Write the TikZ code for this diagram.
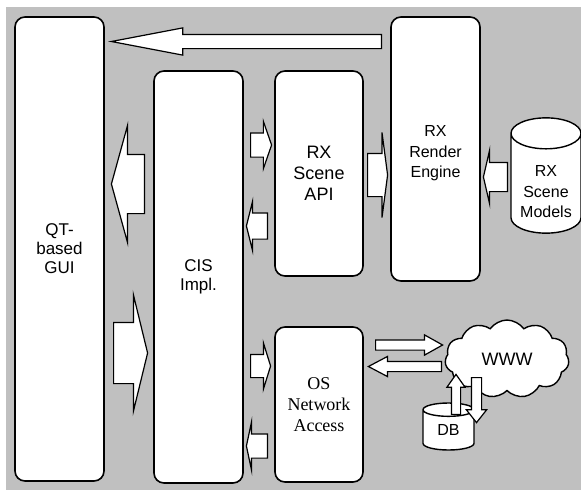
\documentclass[tikz,border=0pt]{standalone}
\usepackage{fontspec}
\setmainfont{Liberation Sans}
\newfontfamily\seriffont{Liberation Serif}
\usetikzlibrary{shapes.arrows,shapes.geometric,shapes.symbols,positioning}
\definecolor{panelgray}{HTML}{C0C0C0}
\tikzset{
    module/.style={
        rectangle,
        draw=black,
        line width=1.6pt,
        rounded corners=10pt,
        fill=white,
        align=center,
        font=\fontsize{17}{19}\selectfont
    },
    store/.style={
        cylinder,
        shape border rotate=90,
        draw=black,
        line width=1.4pt,
        fill=white,
        align=center,
        inner sep=0pt
    },
    blk/.style n args={3}{
        single arrow,
        draw=black,
        fill=white,
        line width=1.2pt,
        inner xsep=0pt,
        inner ysep=#1,
        single arrow head extend=#2,
        single arrow tip angle=#3,
        single arrow head indent=0pt
    },
    vblk/.style n args={3}{
        blk={0pt}{#2}{#3},
        inner xsep=#1
    }
}

\begin{document}
\begin{tikzpicture}[x=1pt, y=-1pt]
\useasboundingbox (0,0) rectangle (581,491);
\fill[panelgray] (6,7) rectangle (581,490);

% 1. Modules
\node[module, minimum width=89pt, minimum height=464pt] (gui) at (59.5,249) {QT-\\based\\GUI};
\node[module, minimum width=89pt, minimum height=412pt] (cis) at (198.5,277) {CIS\\Impl.};
\node[module, minimum width=88pt, minimum height=205pt,
      font=\fontsize{18}{21}\selectfont] (api) at (319,173.5) {RX\\Scene\\API};
\node[module, minimum width=89pt, minimum height=264pt,
      font=\fontsize{16}{20.5}\selectfont] (render) at (435.5,149) {\rule{0pt}{20pt}RX\\Render\\Engine};
\node[module, minimum width=88pt, minimum height=155pt,
      font=\seriffont\fontsize{18}{21}\selectfont] (osnet) at (319,404.5) {OS\\Network\\Access};

% 2. Stores and the web
\node[store, minimum width=70pt, minimum height=95pt, aspect=0.6, anchor=shape center,
      font=\fontsize{16}{20.5}\selectfont] (models) at (546,175.5) {\rule{0pt}{27pt}RX\\Scene\\Models};
\node[cloud, draw=black, line width=1.4pt, fill=white, cloud puffs=11,
      cloud puff arc=110, aspect=1.6, minimum width=124pt, minimum height=78pt,
      inner sep=0pt, font=\fontsize{18}{21}\selectfont] (www) at (507,359) {WWW};
\node[store, minimum width=51pt, minimum height=47pt, aspect=0.6, anchor=shape center,
      font=\fontsize{16}{19}\selectfont] (db) at (448.5,426.5) {DB};

% 3. Block arrows
\node[blk={6.5pt}{6.5pt}{21.6}, minimum height=270pt, shape border rotate=180,
      anchor=tail] (toGui) at (382,41.5) {};
\node[blk={29pt}{29pt}{149.2}, minimum height=33pt, shape border rotate=180,
      anchor=tail] (cisGui) at (145,184) {};
\node[blk={30pt}{27.5pt}{152.6}, minimum height=34pt, anchor=tail] (guiCis) at (113,353) {};
\node[blk={11.5pt}{11.5pt}{141.6}, minimum height=21pt, anchor=tail] (cisApi) at (250,145) {};
\node[blk={12.5pt}{11.5pt}{151.9}, minimum height=21pt, shape border rotate=180,
      anchor=tail] (apiCis) at (268,226) {};
\node[blk={21pt}{21pt}{165}, minimum height=20pt, anchor=tail] (apiRender) at (367,175) {};
\node[blk={14pt}{12pt}{154}, minimum height=24pt, shape border rotate=180,
      anchor=tail] (modelsRender) at (508,177) {};
\node[blk={11pt}{11.5pt}{145.4}, minimum height=20pt, anchor=tail] (cisOs) at (250,366) {};
\node[blk={11.5pt}{12pt}{156}, minimum height=21pt, shape border rotate=180,
      anchor=tail] (osCis) at (268,446) {};
\node[blk={4.5pt}{5pt}{58.4}, minimum height=67pt, anchor=tail] (osWww) at (375,345) {};
\node[blk={4.5pt}{5pt}{55.6}, minimum height=73pt, shape border rotate=180,
      anchor=tail] (wwwOs) at (442,366.5) {};
\node[vblk={4pt}{4.5pt}{70.6}, minimum height=40pt, shape border rotate=90,
      anchor=tail] (dbWww) at (456,415) {};
\node[vblk={4.5pt}{5pt}{76.7}, minimum height=45pt, shape border rotate=270,
      anchor=tail] (wwwDb) at (476.5,377) {};

\end{tikzpicture}
\end{document}
